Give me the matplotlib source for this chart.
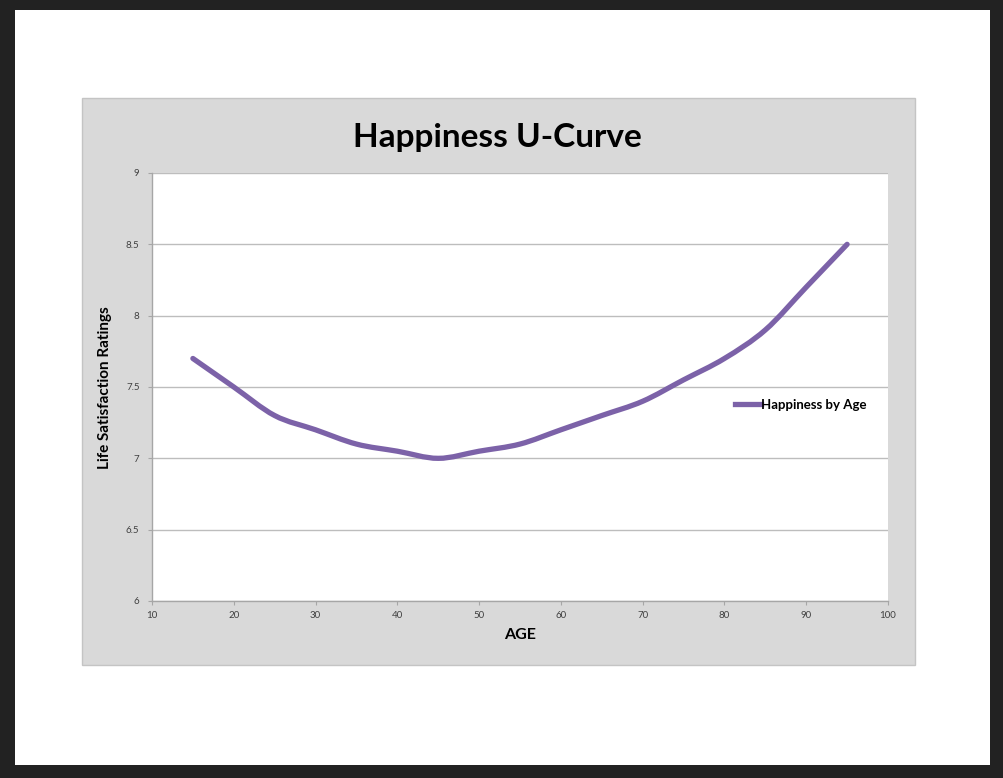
import matplotlib.pyplot as plt
from matplotlib.patches import Rectangle, PathPatch
from matplotlib.path import Path
from matplotlib.lines import Line2D

# valores
ages = [15, 20, 25, 30, 35, 40, 45, 50, 55, 60, 65, 70, 75, 80, 85, 90, 95]
happiness = [7.7, 7.5, 7.3, 7.2, 7.1, 7.05, 7.0, 7.05, 7.1, 7.2, 7.3, 7.4, 7.55, 7.7, 7.9, 8.2, 8.5]
x_ticks = [10, 20, 30, 40, 50, 60, 70, 80, 90, 100]
y_ticks = [6, 6.5, 7, 7.5, 8, 8.5, 9]
y_tick_labels = ['6', '6.5', '7', '7.5', '8', '8.5', '9']

W, H = 1004, 778
LINE_COLOR = '#7c62a8'
font = 'Lato'

fig = plt.figure(figsize=(W / 100, H / 100), dpi=100)
fig.patch.set_facecolor('#222222')

def box(x0, y0, x1, y1, **kw):
    # coordenadas en pixeles (origen arriba a la izquierda)
    r = Rectangle((x0 / W, 1 - y1 / H), (x1 - x0) / W, (y1 - y0) / H,
                  transform=fig.transFigure, **kw)
    fig.patches.append(r)

# fondo blanco y panel gris del grafico
box(15, 10, 990, 765, facecolor='white', edgecolor='none', zorder=0)
box(82, 98, 915, 665, facecolor='#d9d9d9', edgecolor='#c4c4c4', linewidth=1, zorder=1)

ax = fig.add_axes([152 / W, 1 - 601 / H, 736 / W, 428 / H])
ax.set_zorder(2)
ax.set_facecolor('white')

# linea suavizada (curvas de Bezier entre los puntos, como en Excel)
pts = list(zip(ages, happiness))
verts = [pts[0]]
codes = [Path.MOVETO]
n = len(pts)
for i in range(n - 1):
    p0 = pts[i - 1] if i > 0 else pts[i]
    p1 = pts[i]
    p2 = pts[i + 1]
    p3 = pts[i + 2] if i + 2 < n else pts[i + 1]
    c1 = (p1[0] + (p2[0] - p0[0]) / 6, p1[1] + (p2[1] - p0[1]) / 6)
    c2 = (p2[0] - (p3[0] - p1[0]) / 6, p2[1] - (p3[1] - p1[1]) / 6)
    verts += [c1, c2, p2]
    codes += [Path.CURVE4] * 3
curve = PathPatch(Path(verts, codes), facecolor='none', edgecolor=LINE_COLOR,
                  linewidth=3.8, capstyle='round', joinstyle='round', zorder=3)
ax.add_patch(curve)

ax.set_xlim(10, 100)
ax.set_ylim(6, 9)
ax.set_xticks(x_ticks)
ax.set_yticks(y_ticks)
ax.set_xticklabels([str(t) for t in x_ticks])
ax.set_yticklabels(y_tick_labels)
ax.grid(axis='y', color='#bdbdbd', linewidth=1)
ax.set_axisbelow(True)

for s in ['top', 'right']:
    ax.spines[s].set_visible(False)
for s in ['left', 'bottom']:
    ax.spines[s].set_color('#a6a6a6')
    ax.spines[s].set_linewidth(1)

ax.tick_params(axis='both', labelsize=7, colors='#a6a6a6', labelcolor='#404040',
               length=3, width=0.8, direction='out')
ax.tick_params(axis='x', pad=4)
ax.tick_params(axis='y', pad=6)

for lab in ax.get_xticklabels() + ax.get_yticklabels():
    lab.set_family(font)

ax.set_xlabel('AGE', fontsize=11.5, fontweight='bold', family=font, labelpad=6)
ax.set_ylabel('Life Satisfaction Ratings', fontsize=11, fontweight='bold', family=font)
ax.yaxis.set_label_coords(112 / W, 1 - 388 / H, transform=fig.transFigure)

fig.text(497 / W, 1 - 137 / H, 'Happiness U-Curve', ha='center', va='center',
         fontsize=24, fontweight='bold', family=font, zorder=3)

handle = Line2D([], [], color=LINE_COLOR, linewidth=3.8)
ax.legend([handle], ['Happiness by Age'], loc='center left',
          bbox_to_anchor=(728 / W, 1 - 405 / H),
          bbox_transform=fig.transFigure, frameon=False,
          prop={'family': font, 'weight': 'bold', 'size': 9.5},
          handlelength=2.0, handletextpad=0.0, borderpad=0)

fig.savefig('out.png', dpi=100, facecolor=fig.get_facecolor())
